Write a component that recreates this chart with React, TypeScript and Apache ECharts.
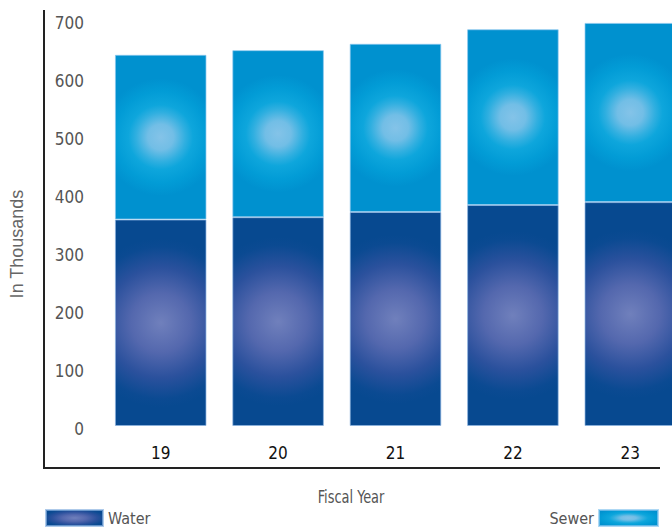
import React, { useEffect, useRef } from "react";
import * as echarts from "echarts";

const categories = ["19", "20", "21", "22", "23"];
const waterValues = [356, 360, 369, 381, 386];
const sewerValues = [284, 288, 290, 303, 309];
const yTicks = { min: 0, max: 700, interval: 100 };

const NARROW = '"DejaVu Sans Condensed", "Liberation Sans Narrow", sans-serif';

const waterStops = [
  { offset: 0, color: "#7080bc" },
  { offset: 0.35, color: "#5468ae" },
  { offset: 0.65, color: "#2b519d" },
  { offset: 0.9, color: "#0b4a92" },
  { offset: 1, color: "#074990" },
];
const sewerStops = [
  { offset: 0, color: "#84c3e8" },
  { offset: 0.22, color: "#72bee6" },
  { offset: 0.42, color: "#30afe0" },
  { offset: 0.55, color: "#0ea6dc" },
  { offset: 0.78, color: "#029cd6" },
  { offset: 1, color: "#0091cf" },
];

export default function App() {
  const ref = useRef<HTMLDivElement>(null);
  useEffect(() => {
    if (!ref.current) return;
    const chart = echarts.init(ref.current, undefined, { renderer: "svg" });
    const legendText = { fontFamily: NARROW, fontSize: 16, color: "#555" };
    chart.setOption({
      animation: false,
      grid: { left: 102, top: 20, width: 587, height: 406, containLabel: false },
      legend: [
        {
          data: ["Water"],
          left: 45,
          top: 509,
          padding: 0,
          itemWidth: 57,
          itemHeight: 16,
          itemGap: 8,
          icon: "rect",
          textStyle: legendText,
        },
        {
          data: ["Sewer"],
          right: 41,
          top: 509,
          padding: 0,
          align: "right",
          itemWidth: 59,
          itemHeight: 16,
          icon: "rect",
          textStyle: legendText,
        },
      ],
      xAxis: {
        type: "category",
        data: categories,
        axisLine: { show: false },
        axisTick: { show: false },
        axisLabel: { margin: 18, fontFamily: NARROW, fontSize: 17, color: "#111" },
      },
      yAxis: {
        type: "value",
        min: yTicks.min,
        max: yTicks.max,
        interval: yTicks.interval,
        splitLine: { show: false },
        axisLine: { show: false },
        axisTick: { show: false },
        axisLabel: {
          margin: 18,
          formatter: "{v|{value}}",
          rich: {
            v: { fontFamily: NARROW, fontSize: 17, color: "#555", padding: [6, 0, 0, 0] },
          },
        },
      },
      graphic: [
        { type: "line", shape: { x1: 44, y1: 10, x2: 44, y2: 468 }, style: { stroke: "#222", lineWidth: 2 } },
        { type: "line", shape: { x1: 43, y1: 468, x2: 660, y2: 468 }, style: { stroke: "#222", lineWidth: 2 } },
        {
          type: "text",
          x: 17,
          y: 244,
          rotation: Math.PI / 2,
          style: {
            text: "In Thousands",
            fontFamily: '"Liberation Sans", Arial, sans-serif',
            fontSize: 18,
            fill: "#666",
            align: "center",
            verticalAlign: "middle",
          },
        },
        {
          type: "text",
          x: 351,
          y: 497,
          scaleX: 0.8,
          style: {
            text: "Fiscal Year",
            fontFamily: NARROW,
            fontSize: 18,
            fill: "#555",
            align: "center",
            verticalAlign: "middle",
          },
        },
      ],
      series: [
        {
          name: "Water",
          type: "bar",
          stack: "total",
          data: waterValues,
          barCategoryGap: "22%",
          itemStyle: {
            color: new echarts.graphic.RadialGradient(0.5, 0.5, 0.6, waterStops),
            borderColor: "rgba(140,180,225,0.7)",
            borderWidth: 1,
          },
        },
        {
          name: "Sewer",
          type: "bar",
          stack: "total",
          data: sewerValues,
          barCategoryGap: "22%",
          itemStyle: {
            color: new echarts.graphic.RadialGradient(0.5, 0.5, 0.6, sewerStops),
            borderColor: "rgba(140,200,240,0.7)",
            borderWidth: 1,
          },
        },
      ],
    });

    // Per-bar circular glows, placed through the chart's own scales.
    const p0 = chart.convertToPixel({ gridIndex: 0 }, [0, 0]) as number[];
    const p1 = chart.convertToPixel({ gridIndex: 0 }, [1, 0]) as number[];
    const band = p1[0] - p0[0];
    const waterR = band * 0.72;
    const sewerR = band * 0.5;
    chart.setOption({
      series: [
        {
          data: waterValues.map((v, i) => {
            const c = chart.convertToPixel({ gridIndex: 0 }, [i, v / 2]) as number[];
            return {
              value: v,
              itemStyle: { color: new echarts.graphic.RadialGradient(c[0], c[1], waterR, waterStops, true) },
            };
          }),
        },
        {
          data: sewerValues.map((v, i) => {
            const c = chart.convertToPixel({ gridIndex: 0 }, [i, waterValues[i] + v / 2]) as number[];
            return {
              value: v,
              itemStyle: { color: new echarts.graphic.RadialGradient(c[0], c[1], sewerR, sewerStops, true) },
            };
          }),
        },
      ],
    });
    return () => chart.dispose();
  }, []);
  return (
    <div
      style={{
        position: "fixed",
        left: 0,
        top: 0,
        width: 672,
        height: 527,
        overflow: "hidden",
        background: "#fff",
      }}
    >
      <div ref={ref} style={{ width: 700, height: 527 }} />
    </div>
  );
}
